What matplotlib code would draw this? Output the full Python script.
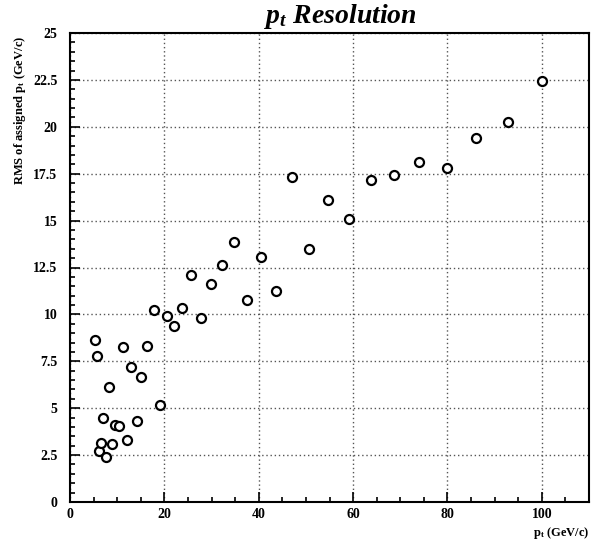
import matplotlib
matplotlib.use("Agg")
import matplotlib.pyplot as plt
from matplotlib.ticker import MultipleLocator, FixedLocator

# Generated momentum (GeV/c) and RMS of the assigned momentum (GeV/c)
pt_true = [5.2, 5.8, 6.2, 6.6, 7.1, 7.7, 8.3, 8.9, 9.6, 10.4, 11.2, 12.1,
           13.0, 14.1, 15.1, 16.3, 17.7, 19.0, 20.5, 22.1, 23.8, 25.6, 27.7,
           29.9, 32.2, 34.7, 37.5, 40.4, 43.6, 47.1, 50.7, 54.7, 59.1, 63.7,
           68.6, 73.9, 79.8, 86.0, 92.8, 100.0]
pt_rms = [8.63, 7.78, 2.71, 3.16, 4.49, 2.39, 6.15, 3.10, 4.10, 4.04, 8.26,
          3.32, 7.18, 4.31, 6.67, 8.30, 10.21, 5.18, 9.91, 9.36, 10.34, 12.12,
          9.82, 11.63, 12.64, 13.88, 10.79, 13.07, 11.26, 17.32, 13.51, 16.10,
          15.07, 17.16, 17.44, 18.14, 17.82, 19.42, 20.25, 22.43]

x_ticks = [0, 20, 40, 60, 80, 100]
y_ticks = [0, 2.5, 5, 7.5, 10, 12.5, 15, 17.5, 20, 22.5, 25]
y_tick_labels = ["0", "2.5", "5", "7.5", "10", "12.5", "15", "17.5", "20", "22.5", "25"]

plt.rcParams["font.family"] = "Liberation Serif"
plt.rcParams["font.weight"] = "bold"
plt.rcParams["mathtext.fontset"] = "custom"
plt.rcParams["mathtext.rm"] = "Liberation Serif:bold"
plt.rcParams["mathtext.it"] = "Liberation Serif:bold:italic"
plt.rcParams["mathtext.bf"] = "Liberation Serif:bold"

W, H = 598, 544
fig = plt.figure(figsize=(W / 100, H / 100), dpi=100)
left, right, top, bottom = 70, 589, 33, 502
ax = fig.add_axes([left / W, 1 - bottom / H, (right - left) / W, (bottom - top) / H])

ax.set_xlim(0, 110)
ax.set_ylim(0, 25)

ax.xaxis.set_major_locator(FixedLocator(x_ticks))
ax.xaxis.set_minor_locator(MultipleLocator(5))
ax.yaxis.set_major_locator(FixedLocator(y_ticks))
ax.set_yticklabels(y_tick_labels)
ax.yaxis.set_minor_locator(MultipleLocator(0.5))

ax.tick_params(which="both", direction="in", top=False, right=False, width=1.2)
ax.tick_params(which="major", length=7, labelsize=10)
ax.tick_params(which="minor", length=3.6)
ax.tick_params(axis="x", which="major", pad=4)
ax.tick_params(axis="y", which="major", pad=9)
for lab in ax.get_xticklabels() + ax.get_yticklabels():
    lab.set_fontweight("bold")

ax.grid(True, which="major", linestyle=(0, (1, 2)), color="#555555", linewidth=1.0)
ax.set_axisbelow(True)
for sp in ax.spines.values():
    sp.set_linewidth(1.5)

ax.plot(pt_true, pt_rms, linestyle="none", marker="o", markersize=6.5,
        markerfacecolor="white", markeredgecolor="black", markeredgewidth=1.6,
        zorder=3)

fig.text(340 / W, 1 - 23 / H, r"$p_t$ Resolution", ha="center", va="baseline",
         fontsize=20, fontweight="bold", fontstyle="italic")
fig.text(20 / W, 1 - 36 / H, r"RMS of assigned $\mathrm{p_t}$ (GeV/c)",
         rotation=90, ha="center", va="top", fontsize=9, fontweight="bold")
fig.text(590 / W, 1 - 533 / H, r"$\mathrm{p_t}$ (GeV/c)", ha="right",
         va="center", fontsize=9, fontweight="bold")

fig.savefig("out.png", dpi=100)
